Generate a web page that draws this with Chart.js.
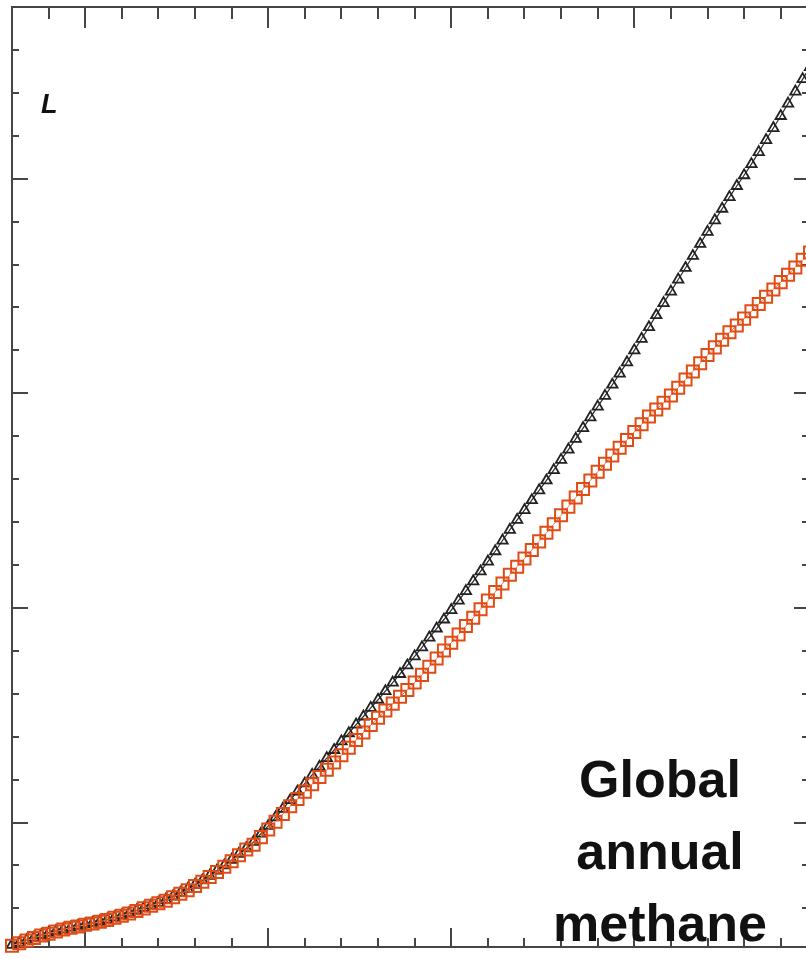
<!DOCTYPE html>
<html>
<head>
<meta charset="utf-8">
<script src="https://cdn.jsdelivr.net/npm/chart.js@4.4.1/dist/chart.umd.min.js"></script>
<style>
  html, body { margin: 0; padding: 0; background: #ffffff; overflow: hidden; }
  #wrap { width: 806px; height: 959px; overflow: hidden; position: relative; }
  canvas { display: block; }
</style>
</head>
<body>
<div id="wrap"><canvas id="chart" width="820" height="959"></canvas></div>
<script>
// Years of the record
const years = [
  1915,1916,1917,1918,1919,1920,1921,1922,1923,1924,
  1925,1926,1927,1928,1929,1930,1931,1932,1933,1934,
  1935,1936,1937,1938,1939,1940,1941,1942,1943,1944,
  1945,1946,1947,1948,1949,1950,1951,1952,1953,1954,
  1955,1956,1957,1958,1959,1960,1961,1962,1963,1964,
  1965,1966,1967,1968,1969,1970,1971,1972,1973,1974,
  1975,1976,1977,1978,1979,1980,1981,1982,1983,1984,
  1985,1986,1987,1988,1989,1990,1991,1992,1993,1994,
  1995,1996,1997,1998,1999,2000,2001,2002,2003,2004,
  2005,2006,2007,2008,2009,2010,2011,2012,2013,2014,
  2015,2016,2017,2018,2019,2020,2021,2022,2023,2024
];

// Black triangles
const seriesBlack = [
  215,220,226,232,238,243,247,251,255,259,
  263,266,270,274,279,284,289,295,301,307,
  313,320,328,336,345,355,365,376,388,400,
  413,427,440,455,474,492,512,532,552,572,
  591,611,630,650,669,689,708,728,747,767,
  786,806,826,846,866,887,908,931,952,973,
  995,1017,1039,1062,1085,1108,1132,1157,1182,1205,
  1228,1251,1274,1297,1321,1345,1369,1394,1419,1444,
  1469,1494,1520,1546,1572,1600,1627,1654,1682,1710,
  1737,1765,1792,1820,1848,1876,1903,1930,1957,1983,
  2008,2034,2062,2090,2118,2146,2175,2203,2232,2260
];

// Red squares
const seriesRed = [
  213,219,225,231,237,241,246,251,255,258,
  262,265,269,273,278,283,288,294,300,306,
  312,318,326,334,342,352,362,373,385,397,
  410,424,437,448,466,484,502,520,538,555,
  572,589,606,623,640,657,674,692,710,727,
  744,761,777,793,809,826,844,863,882,901,
  919,938,958,977,997,1017,1037,1057,1077,1096,
  1115,1135,1155,1175,1195,1216,1236,1257,1277,1297,
  1317,1336,1355,1373,1391,1410,1428,1446,1462,1478,
  1495,1513,1532,1551,1570,1589,1607,1625,1642,1658,
  1674,1691,1708,1725,1742,1759,1776,1793,1811,1828
];

// Tick positions
const xTicks = [1920,1925,1930,1935,1940,1945,1950,1955,1960,1965,1970,1975,1980,1985,1990,1995,2000,2005,2010,2015,2020];
const xMajorTicks = [1925,1950,1975,2000];
const yTicks = [300,400,500,600,700,800,900,1000,1100,1200,1300,1400,1500,1600,1700,1800,1900,2000,2100,2200,2300];
const yMajorTicks = [500,1000,1500,2000];

const titleLines = ['Global', 'annual', 'methane'];
const cornerMark = 'L';

const AXIS_COLOR = '#454545';

const frameTicks = {
  id: 'frameTicks',
  beforeDatasetsDraw(chart) {
    const { ctx, chartArea: a, scales: { x, y } } = chart;
    ctx.save();
    ctx.strokeStyle = AXIS_COLOR;
    ctx.lineWidth = 2;
    ctx.lineCap = 'butt';
    ctx.beginPath();
    ctx.rect(a.left, a.top, a.right - a.left, a.bottom - a.top);
    ctx.stroke();

    ctx.beginPath();
    xTicks.forEach(v => {
      const px = Math.round(x.getPixelForValue(v));
      const major = xMajorTicks.includes(v);
      ctx.moveTo(px, a.top);
      ctx.lineTo(px, a.top + (major ? 21 : 12));
      ctx.moveTo(px, a.bottom);
      ctx.lineTo(px, a.bottom - (major ? 19 : 9));
    });
    yTicks.forEach(v => {
      const py = Math.round(y.getPixelForValue(v));
      const major = yMajorTicks.includes(v);
      ctx.moveTo(a.left, py);
      ctx.lineTo(a.left + (major ? 16 : 7), py);
      ctx.moveTo(a.right, py);
      ctx.lineTo(a.right - (major ? 16 : 8), py);
    });
    ctx.stroke();
    ctx.restore();
  },
  afterDraw(chart) {
    const { ctx } = chart;
    ctx.save();
    ctx.fillStyle = '#111111';
    ctx.font = 'bold 52px "Liberation Sans", Arial, sans-serif';
    ctx.textAlign = 'center';
    ctx.textBaseline = 'alphabetic';
    const baselines = [797, 869, 941];
    titleLines.forEach((t, i) => ctx.fillText(t, 660, baselines[i]));

    ctx.font = 'italic bold 27px "Liberation Sans", Arial, sans-serif';
    ctx.textAlign = 'left';
    ctx.fillText(cornerMark, 41, 113);
    ctx.restore();
  }
};

new Chart(document.getElementById('chart'), {
  type: 'line',
  data: {
    datasets: [
      {
        label: 'Red',
        data: years.map((yr, i) => ({ x: yr, y: seriesRed[i] })),
        borderColor: '#f27c4c',
        borderWidth: 1,
        pointStyle: 'rect',
        pointRadius: 8.5,
        pointBorderWidth: 2,
        pointBorderColor: '#e04c16',
        pointBackgroundColor: 'rgba(0,0,0,0)',
        tension: 0,
        clip: false
      },
      {
        label: 'Black',
        data: years.map((yr, i) => ({ x: yr, y: seriesBlack[i] })),
        borderColor: '#2a2a2a',
        borderWidth: 1.2,
        pointStyle: 'triangle',
        pointRadius: 6,
        pointBorderWidth: 1.8,
        pointBorderColor: '#222222',
        pointBackgroundColor: 'rgba(0,0,0,0)',
        tension: 0,
        clip: false
      }
    ]
  },
  options: {
    responsive: false,
    animation: false,
    events: [],
    layout: { autoPadding: false, padding: { left: 12, top: 7, right: 10, bottom: 12 } },
    plugins: { legend: { display: false }, tooltip: { enabled: false }, title: { display: false } },
    scales: {
      x: { type: 'linear', min: 1915, max: 2024, display: false },
      y: { type: 'linear', min: 210, max: 2400, display: false }
    }
  },
  plugins: [frameTicks]
});
</script>
</body>
</html>
